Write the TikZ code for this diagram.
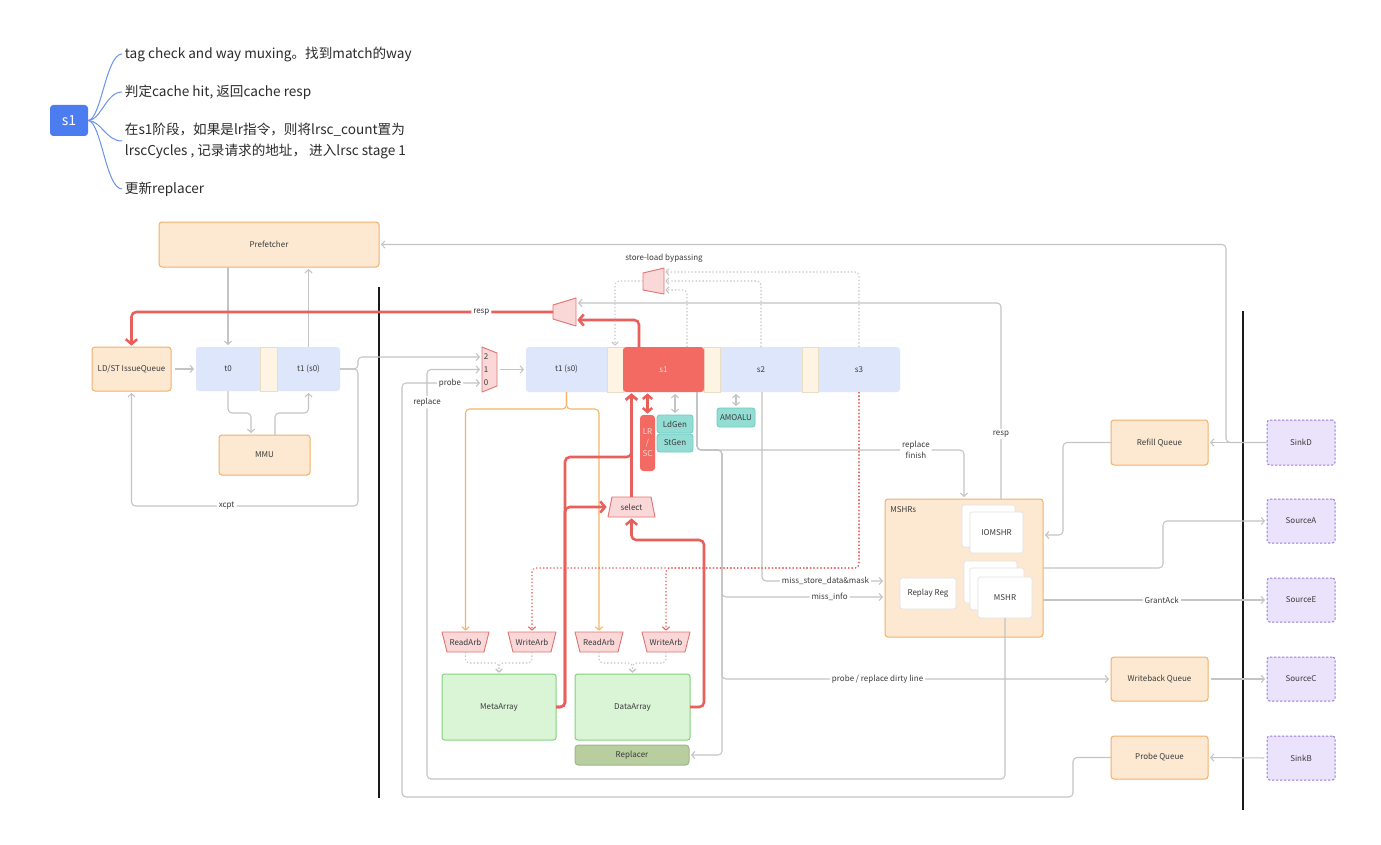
\documentclass[tikz,border=0pt]{standalone}
\usepackage{fontspec}
\newfontfamily\cjk{Noto Sans CJK SC}
\usetikzlibrary{arrows.meta,calc}

\definecolor{gline}{HTML}{C4C4C4}
\definecolor{redl}{HTML}{E8605C}
\definecolor{orgfill}{HTML}{FDE9D2}
\definecolor{orgdraw}{HTML}{F3B06A}
\definecolor{blufill}{HTML}{DDE6FA}
\definecolor{beige}{HTML}{FEF4E4}
\definecolor{beigedraw}{HTML}{EBDCC4}
\definecolor{s1red}{HTML}{F36A63}
\definecolor{s1txt}{HTML}{FFD8D4}
\definecolor{tealfill}{HTML}{93DDD5}
\definecolor{tealdraw}{HTML}{6ECBC0}
\definecolor{grnfill}{HTML}{D9F5D6}
\definecolor{grndraw}{HTML}{85CF7E}
\definecolor{replfill}{HTML}{B8CE9E}
\definecolor{repldraw}{HTML}{9DB985}
\definecolor{purfill}{HTML}{EBE3FB}
\definecolor{purdraw}{HTML}{9B7AD8}
\definecolor{pinkfill}{HTML}{FAD8D7}
\definecolor{pinkdraw}{HTML}{E37474}
\definecolor{txt}{HTML}{3A3A3A}
\definecolor{mmblue}{HTML}{4B7DF1}
\definecolor{mmcurve}{HTML}{6A92EE}
\definecolor{mmtxt}{HTML}{2B2B2B}
\definecolor{orgline}{HTML}{F2B666}
\definecolor{wbdraw}{HTML}{E2E2E2}
\definecolor{sepc}{HTML}{1A1A1A}

\newcommand\dgfont{\cjk\fontsize{6.0}{7.8}\selectfont}
\newcommand\mmfont{\cjk\fontsize{10.2}{15.75}\selectfont}

\tikzset{
  sz/.style 2 args={minimum width=#1*0.75pt,minimum height=#2*0.75pt,inner sep=0pt,outer sep=0pt},
  lbl/.style={font=\dgfont,text=txt},
  obox/.style={lbl,draw=orgdraw,fill=orgfill,rounded corners=2.2pt,line width=0.75pt},
  stagebg/.style={fill=blufill,rounded corners=2.2pt},
  divbox/.style={fill=beige,draw=beigedraw,line width=0.6pt},
  hotbox/.style={lbl,fill=s1red,rounded corners=2.5pt,text=s1txt},
  tealbox/.style={lbl,fill=tealfill,draw=tealdraw,line width=0.6pt,rounded corners=2pt},
  arrbox/.style={lbl,fill=grnfill,draw=grndraw,line width=0.75pt,rounded corners=2pt},
  replbox/.style={lbl,fill=replfill,draw=repldraw,line width=0.75pt,rounded corners=2.5pt},
  tlbox/.style={lbl,fill=purfill,draw=purdraw,line width=0.75pt,dash pattern=on 1.6pt off 1.4pt,rounded corners=2pt},
  whitebox/.style={lbl,fill=white,draw=wbdraw,line width=0.5pt,rounded corners=1.2pt},
  muxshape/.style={fill=pinkfill,draw=pinkdraw,line width=0.7pt,line join=round},
  gl/.style={draw=gline,line width=0.8pt,rounded corners=3pt},
  gar/.style={gl,-{Straight Barb[length=2.4pt,width=5.4pt]},shorten >=1.5pt},
  gdbl/.style={gl,{Straight Barb[length=2.4pt,width=5.4pt]}-{Straight Barb[length=2.4pt,width=5.4pt]},shorten >=1.5pt,shorten <=1.5pt},
  gdot/.style={gl,dash pattern=on 1pt off 1.6pt},
  gdar/.style={gdot,-{Straight Barb[length=2.2pt,width=4.8pt]},shorten >=1pt},
  rl/.style={draw=redl,line width=1.9pt,rounded corners=3.5pt},
  rar/.style={rl,-{Straight Barb[length=3.6pt,width=8.5pt]},shorten >=1pt},
  rdbl/.style={rl,{Straight Barb[length=3pt,width=7pt]}-{Straight Barb[length=3pt,width=7pt]},shorten >=1pt,shorten <=1pt},
  rdar/.style={draw=redl,line width=0.8pt,dash pattern=on 1pt off 1.6pt,rounded corners=3pt,-{Straight Barb[length=2.4pt,width=5.4pt]},shorten >=1pt},
  oar/.style={draw=orgline,line width=0.8pt,rounded corners=3pt,-{Straight Barb[length=2.4pt,width=5.4pt]},shorten >=1pt},
  lab/.style={lbl,fill=white,inner sep=1.5pt},
  mmcurvestyle/.style={draw=mmcurve,line width=0.75pt},
  mmtext/.style={font=\mmfont,text=mmtxt,inner sep=2pt,anchor=west,align=left},
}

\begin{document}
\begin{tikzpicture}[x=0.75pt,y=-0.75pt]
\useasboundingbox (0,0) rectangle (1381,845);
\fill[white] (0,0) rectangle (1381,845);

% ---------- mind map of stage s1 ----------
\node[fill=mmblue,rounded corners=2.5pt,sz={38}{31},text=white,font=\cjk\fontsize{10.5}{13}\selectfont] (s1m) at (69,120.5) {s1};
\node[mmtext] (ma) at (122,54) {tag check and way muxing。找到match的way};
\node[mmtext] (mb) at (122,92) {判定cache hit, 返回cache resp};
\node[mmtext] (mc) at (122,141) {在s1阶段，如果是lr指令，则将lrsc\_count置为\\lrscCycles , 记录请求的地址， 进入lrsc stage 1};
\node[mmtext] (md) at (122,189) {更新replacer};
\foreach \t in {ma,mb,mc,md}
  \draw[mmcurvestyle] (s1m.east) .. controls ($(s1m.east)+(13,0)$) and ($(\t.west)+(-16,0)$) .. (\t.west);

% ---------- boundary lines ----------
\draw[line width=1.1pt,draw=sepc] (379,287) -- (379,798);
\draw[line width=1.1pt,draw=sepc] (1243,311) -- (1243,810);

% ---------- front end: issue, TLB stages ----------
\node[obox,sz={220}{45}] (pref) at (269,244.5) {Prefetcher};
\node[obox,sz={79}{44}] (issue) at (131.5,369) {LD/ST IssueQueue};
\node[stagebg,sz={144}{44}] (tpipe) at (268,369) {};
\node[divbox,sz={17}{44}] (tdiv) at (268.5,369) {};
\node[lbl,sz={64}{44}] (t0) at (228,369) {t0};
\node[lbl,sz={63}{44}] (t1) at (308.5,369) {t1 (s0)};
\node[obox,sz={91}{40}] (mmu) at (264.5,455) {MMU};

% ---------- muxes ----------
\draw[muxshape] (482,347) -- (497,353) -- (497,386) -- (482,392) -- cycle;
\node[sz={15}{45}] (muxin) at (489.5,369.5) {};
\node[lbl,anchor=west,inner sep=0pt] (min2) at (483.5,357) {2};
\node[lbl,anchor=west,inner sep=0pt] (min1) at (483.5,369.5) {1};
\node[lbl,anchor=west,inner sep=0pt] (min0) at (483.5,383) {0};

\draw[muxshape] (553,305) -- (576,298) -- (576,326) -- (553,319) -- cycle;
\node[sz={23}{28}] (respmux) at (564.5,312) {};

\draw[muxshape] (643,273) -- (664,268) -- (664,294) -- (643,290) -- cycle;
\node[sz={21}{26}] (bypass) at (653.5,281) {};
\node[lbl] (bypasslbl) at (664,258) {store-load bypassing};

% ---------- main pipeline ----------
\node[stagebg,sz={374}{45}] (pipe) at (713,369.5) {};
\node[divbox,sz={16}{45}] (d1) at (615,369.5) {};
\node[divbox,sz={16}{45}] (d2) at (712,369.5) {};
\node[divbox,sz={16}{45}] (d3) at (810,369.5) {};
\node[hotbox,sz={81}{45}] (s1) at (663.5,369.5) {s1};
\node[lbl,sz={81}{45}] (t1s0) at (566.5,369.5) {t1 (s0)};
\node[lbl,sz={82}{45}] (s2) at (761,369.5) {s2};
\node[lbl,sz={82}{45}] (s3) at (859,369.5) {s3};

\node[hotbox,sz={15}{56},align=center,font=\cjk\fontsize{6}{8.3}\selectfont] (lrsc) at (647.5,443) {LR\\/\\SC};
\node[tealbox,sz={36}{18}] (ldgen) at (675,424) {LdGen};
\node[tealbox,sz={36}{18}] (stgen) at (675,443) {StGen};
\node[tealbox,sz={38}{19}] (amoalu) at (736,417.5) {AMOALU};

\draw[muxshape] (612,497) -- (651,497) -- (655,517) -- (608,517) -- cycle;
\node[lbl,sz={47}{20}] (select) at (631.5,507) {select};

% ---------- arbiters and arrays ----------
\draw[muxshape] (442,632) -- (489,632) -- (484,652) -- (447,652) -- cycle;
\node[lbl,sz={47}{20}] (ra1) at (465.5,642) {ReadArb};
\draw[muxshape] (508,632) -- (556,632) -- (551,652) -- (513,652) -- cycle;
\node[lbl,sz={48}{20}] (wa1) at (532,642) {WriteArb};
\draw[muxshape] (575,632) -- (623,632) -- (618,652) -- (580,652) -- cycle;
\node[lbl,sz={48}{20}] (ra2) at (599,642) {ReadArb};
\draw[muxshape] (642,632) -- (690,632) -- (685,652) -- (647,652) -- cycle;
\node[lbl,sz={48}{20}] (wa2) at (666,642) {WriteArb};

\node[arrbox,sz={114}{66}] (meta) at (499,707) {MetaArray};
\node[arrbox,sz={115}{66}] (data) at (632.5,707) {DataArray};
\node[replbox,sz={114}{20}] (repl) at (632,755) {Replacer};

% ---------- MSHRs ----------
\node[obox,sz={158}{138}] (mshrs) at (964,568) {};
\node[lbl,anchor=west,inner sep=0pt] (mshrslbl) at (890,510) {MSHRs};
\node[whitebox,sz={53}{42}] (io1) at (988.5,526) {};
\node[whitebox,sz={53}{41}] (io2) at (996.5,532.5) {IOMSHR};
\node[whitebox,sz={53}{42}] (ms1) at (990.5,582) {};
\node[whitebox,sz={54}{42}] (ms2) at (997,589) {};
\node[whitebox,sz={54}{41}] (ms3) at (1005,597.5) {MSHR};
\node[whitebox,sz={56}{31}] (replay) at (928,593.5) {Replay Reg};

% ---------- queues and TileLink channels ----------
\node[obox,sz={97}{45}] (refill) at (1159.5,442.5) {Refill Queue};
\node[obox,sz={97}{44}] (wbq) at (1159.5,679) {Writeback Queue};
\node[obox,sz={97}{43}] (probeq) at (1159.5,757.5) {Probe Queue};
\node[tlbox,sz={68}{45}] (sinkd) at (1301,442.5) {SinkD};
\node[tlbox,sz={68}{44}] (srca) at (1301,521) {SourceA};
\node[tlbox,sz={68}{44}] (srce) at (1301,600) {SourceE};
\node[tlbox,sz={68}{44}] (srcc) at (1301,679) {SourceC};
\node[tlbox,sz={68}{44}] (sinkb) at (1301,758) {SinkB};

% ---------- front-end connectors ----------
\draw[gar,shorten <=3pt] (issue.east) -- (t0.west);
\draw[gar] (pref.south -| t0.north) -- (t0.north);
\draw[gar] (t1.north) -- (t1.north |- pref.south);
\draw[gar] (t0.south) |- ($(mmu.north)+(-13.5,-22)$) -- ($(mmu.north)+(-13.5,0)$);
\draw[gar] ($(mmu.north)+(10.5,0)$) |- ($(t1.south)+(0,22)$) -- (t1.south);
\draw[gar] (t1.east) -- ++(18,0) |- ($(muxin.west)+(0,-12.5)$);
\draw[gar] (t1.east) -- ++(18,0) |- node[lab,pos=0.79] {xcpt} ($(issue.south)+(0,115)$) -- (issue.south);
\draw[gar,shorten <=2pt] (muxin.east) -- (t1s0.west);
\draw[gar] (ms3.south) -- ++(0,161) -| node[lab,pos=0.96] {replace} ($(muxin.west)+(-55,0)$) -- (muxin.west);
\draw[gar] (probeq.west) -- ++(-38,0) |- (402,797) |- node[lab,pos=0.8] {probe} ($(muxin.west)+(0,13.5)$);

% ---------- response paths ----------
\draw[rar] (respmux.west) -| node[lab,pos=0.085] {resp} (issue.north);
\draw[rar] ($(s1.north)+(-24.5,0)$) |- ($(respmux.east)+(0,8)$);
\draw[gar] ($(mshrs.north)+(37,0)$) |- node[lab,pos=0.166] {resp} ($(respmux.east)+(0,-9)$);

% ---------- store-load bypassing ----------
\draw[gdar] (s3.north) |- ($(bypass.east)+(0,-9)$);
\draw[gdar] (s2.north) |- (bypass.east);
\draw[gdar] ($(s1.north)+(23.5,0)$) |- ($(bypass.east)+(0,9)$);
\draw[gdar] (bypass.west) -| (d1.north);

% ---------- refill / prefetch / TileLink ----------
\draw[gar,shorten <=2pt] (sinkd.west) -- (refill.east);
\draw[gar] (sinkd.west) -| (1226,244.5) -- (pref.east);
\draw[gar] (refill.west) -- ++(-48,0) |- ($(mshrs.east)+(0,-33)$);
\draw[gar] (mshrs.east) -- ++(120,0) |- (srca.west);
\draw[gar] ($(mshrs.east)+(0,32)$) -- node[lab,pos=0.53] {GrantAck} (srce.west);
\draw[gar,shorten <=2pt] (wbq.east) -- (srcc.west);
\draw[gar,shorten <=2pt] (sinkb.west) -- (probeq.east);

% ---------- stage s1/s2 side paths ----------
\draw[gar] ($(s1.south)+(33.5,0)$) -- ++(0,58) -| node[lab,align=center,pos=0.41] {replace\\finish} (mshrs.north);
\draw[gar] ($(s1.south)+(33.5,0)$) |- (722,450) |- (repl.east);
\draw[gar] ($(s1.south)+(33.5,0)$) |- (722,450) |- node[lab,pos=0.83] {miss\_info} ($(mshrs.west)+(0,29)$);
\draw[gar] ($(s1.south)+(33.5,0)$) |- (722,450) |- node[lab,pos=0.70] {probe / replace dirty line} (wbq.west);
\draw[gar] ($(s2.south)+(1,0)$) |- node[lab,pos=0.758] {miss\_store\_data\&mask} ($(mshrs.west)+(0,13)$);
\draw[gdbl] (amoalu.north) -- (amoalu.north |- s2.south);
\draw[gdbl] (ldgen.north) -- (ldgen.north |- s1.south);

% ---------- array access ----------
\draw[oar] (t1s0.south) -- ++(0,17) -| (ra1.north);
\draw[oar] (t1s0.south) -- ++(0,17) -| (ra2.north);
\draw[rdar] (s3.south) -- ++(0,176) -| (wa1.north);
\draw[rdar] (s3.south) -- ++(0,176) -| (wa2.north);
\draw[gdar] (ra1.south) -- ++(0,11) -| (meta.north);
\draw[gdar] (wa1.south) -- ++(0,11) -| (meta.north);
\draw[gdar] (ra2.south) -- ++(0,11) -| (data.north);
\draw[gdar] (wa2.south) -- ++(0,11) -| (data.north);

% ---------- read data back to s1 ----------
\draw[rar] (meta.east) -- ++(9,0) |- ($(select.north)+(0,-40)$) -- (select.north |- s1.south);
\draw[rar] (meta.east) -- ++(9,0) |- (select.west);
\draw[rar] (data.east) -- ++(14,0) |- ($(select.south)+(0,23)$) -- (select.south);
\draw[rar] (select.north) -- (select.north |- s1.south);
\draw[rdbl] (lrsc.north) -- (lrsc.north |- s1.south);

\end{tikzpicture}
\end{document}
